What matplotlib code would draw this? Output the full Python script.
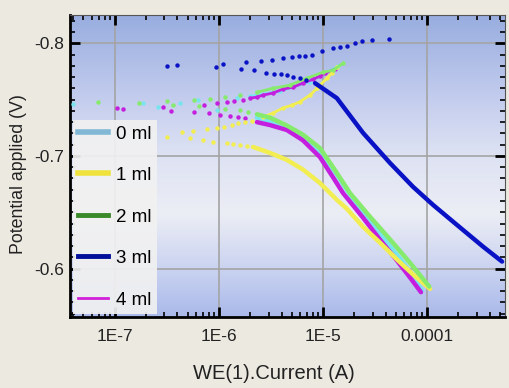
import numpy as np
import matplotlib
matplotlib.use('Agg')
import matplotlib.pyplot as plt
from matplotlib.colors import LinearSegmentedColormap
from matplotlib.lines import Line2D
from matplotlib.ticker import MultipleLocator, LogLocator, FixedLocator, FixedFormatter

plt.rcParams['font.family'] = ['Liberation Sans', 'DejaVu Sans']

labels = ['0 ml', '1 ml', '2 ml', '3 ml', '4 ml']

# dense lower branch: current (A), potential (V)
line_I = {
    '0 ml': [8.95e-5, 6.1e-5, 4.4e-5, 2.83e-5, 1.82e-5, 1.30e-5, 9.8e-6, 6.4e-6, 4.5e-6, 3.1e-6, 2.32e-6],
    '1 ml': [1.07e-4, 7.3e-5, 5.15e-5, 3.53e-5, 2.43e-5, 1.70e-5, 1.36e-5, 9.35e-6, 6.4e-6, 4.5e-6, 3.1e-6, 2.12e-6],
    '2 ml': [1.05e-4, 6.87e-5, 4.4e-5, 2.83e-5, 1.82e-5, 1.25e-5, 9.35e-6, 6.4e-6, 4.5e-6, 3.1e-6, 2.32e-6],
    '3 ml': [5.26e-4, 3.45e-4, 1.78e-4, 1.14e-4, 7.33e-5, 4.4e-5, 2.43e-5, 1.36e-5, 8.4e-6],
    '4 ml': [8.75e-5, 6.87e-5, 5.15e-5, 3.53e-5, 2.43e-5, 1.56e-5, 1.25e-5, 9.35e-6, 6.4e-6, 4.5e-6, 3.1e-6, 2.32e-6],
}
line_V = {
    '0 ml': [-0.5805, -0.6035, -0.620, -0.6425, -0.6655, -0.686, -0.701, -0.716, -0.725, -0.731, -0.734],
    '1 ml': [-0.582, -0.595, -0.608, -0.623, -0.637, -0.653, -0.661, -0.676, -0.688, -0.6965, -0.7027, -0.708],
    '2 ml': [-0.584, -0.605, -0.626, -0.646, -0.667, -0.690, -0.707, -0.719, -0.727, -0.734, -0.737],
    '3 ml': [-0.6062, -0.6195, -0.6416, -0.6566, -0.6726, -0.6938, -0.7204, -0.7513, -0.7646],
    '4 ml': [-0.579, -0.592, -0.607, -0.6257, -0.6451, -0.667, -0.681, -0.699, -0.714, -0.723, -0.7274, -0.730],
}

# upper branch, closely spaced points near its end
up_I = {
    '0 ml': [2.0e-6, 3.86e-6, 7.5e-6, 1.39e-5],
    '1 ml': [2.65e-6, 3.3e-6, 4.12e-6, 5.0e-6, 6.0e-6, 7.5e-6, 8.75e-6, 1.09e-5, 1.22e-5, 1.36e-5],
    '2 ml': [2.32e-6, 3.3e-6, 4.8e-6, 7.0e-6, 1.0e-5, 1.25e-5, 1.56e-5],
    '4 ml': [2.0e-6, 2.32e-6, 2.65e-6, 3.3e-6, 4.12e-6, 5.15e-6, 6.4e-6, 8.0e-6, 9.35e-6, 1.05e-5, 1.30e-5],
}
up_V = {
    '0 ml': [-0.753, -0.7575, -0.766, -0.7796],
    '1 ml': [-0.7345, -0.738, -0.7425, -0.745, -0.748, -0.754, -0.760, -0.769, -0.7735, -0.779],
    '2 ml': [-0.7566, -0.760, -0.7628, -0.769, -0.7743, -0.776, -0.7823],
    '4 ml': [-0.7513, -0.7522, -0.754, -0.7558, -0.7593, -0.761, -0.7646, -0.768, -0.7708, -0.7735, -0.777],
}

# separate points (corrosion region and the 3 ml upper row)
dot_I = {
    '0 ml': [4.0e-8, 1.86e-7, 2.6e-7, 4.2e-7, 6.3e-7, 9.6e-7, 1.5e-6],
    '1 ml': [3.2e-7, 5.3e-7, 7.0e-7, 8.75e-7, 1.19e-6, 1.36e-6, 1.6e-6, 1.86e-6,
             4.4e-7, 5.6e-7, 7.7e-7, 9.6e-7, 1.12e-6, 1.33e-6, 1.52e-6, 1.78e-6, 2.07e-6],
    '2 ml': [6.9e-8, 1.7e-7, 3.2e-7, 3.6e-7, 5.75e-7, 6.4e-7, 8.2e-7, 1.14e-6, 1.15e-6, 1.58e-6, 1.58e-6, 1.9e-6],
    '3 ml': [3.2e-7, 4.0e-7, 9.4e-7, 1.63e-6, 2.17e-6, 2.83e-6, 3.4e-6, 3.95e-6, 4.5e-6, 5.15e-6, 6.0e-6, 6.9e-6,
             1.10e-6, 1.82e-6, 2.54e-6, 3.24e-6, 4.12e-6, 5.0e-6, 5.9e-6, 6.7e-6, 7.8e-6, 9.8e-6,
             1.25e-5, 1.46e-5, 1.70e-5, 2.03e-5, 2.37e-5, 2.96e-5, 4.3e-5],
    '4 ml': [1.05e-7, 1.19e-7, 2.9e-7, 3.47e-7, 5.75e-7, 7.2e-7, 8.0e-7, 9.6e-7, 1.02e-6, 1.19e-6,
             1.28e-6, 1.39e-6, 1.52e-6, 1.70e-6, 1.78e-6],
}
dot_V = {
    '0 ml': [-0.746, -0.747, -0.7434, -0.747, -0.7496, -0.7407, -0.751],
    '1 ml': [-0.7168, -0.7159, -0.7142, -0.7124, -0.7115, -0.7106, -0.7097, -0.7088,
             -0.7212, -0.7221, -0.7239, -0.7248, -0.7257, -0.7274, -0.7292, -0.730, -0.731],
    '2 ml': [-0.748, -0.747, -0.7487, -0.745, -0.7496, -0.744, -0.7504, -0.742, -0.752, -0.7407, -0.754, -0.739],
    '3 ml': [-0.780, -0.781, -0.779, -0.777, -0.776, -0.774, -0.773, -0.7726, -0.7717, -0.770, -0.769, -0.767,
             -0.782, -0.783, -0.784, -0.785, -0.787, -0.788, -0.7885, -0.789, -0.790, -0.793,
             -0.7956, -0.797, -0.798, -0.800, -0.802, -0.803, -0.8035],
    '4 ml': [-0.7425, -0.7416, -0.7434, -0.740, -0.739, -0.745, -0.738, -0.747, -0.7363, -0.748,
             -0.7354, -0.7487, -0.7345, -0.7496, -0.7336],
}

plot_colors = {'0 ml': '#78e4ee', '1 ml': '#f2ee52', '2 ml': '#86ea6c',
               '3 ml': '#0a12c6', '4 ml': '#c41ede'}
legend_colors = {'0 ml': '#80b8d6', '1 ml': '#f0e23c', '2 ml': '#3a8a2a',
                 '3 ml': '#00109a', '4 ml': '#d020d8'}
legend_lw = {'0 ml': 4, '1 ml': 4, '2 ml': 3.5, '3 ml': 3.5, '4 ml': 2}

fig = plt.figure(figsize=(5.1, 3.88), dpi=100)
fig.patch.set_facecolor('#ece9e1')
ax = fig.add_axes([0.137, 0.183, 0.853, 0.778])

# background gradient of the plot area
bg = LinearSegmentedColormap.from_list('bg', [
    (0.0, '#aab9ea'), (0.16, '#cad3f0'), (0.34, '#eceef5'), (0.54, '#dde2f3'),
    (0.72, '#c4cdee'), (1.0, '#98addf')])
grad = np.linspace(0, 1, 256).reshape(-1, 1)
ax.imshow(grad, cmap=bg, aspect='auto', extent=[0, 1, 0, 1], origin='lower',
          transform=ax.transAxes, zorder=0)

ax.set_xscale('log')
ax.set_xlim(3.7e-8, 5.6e-4)
ax.set_ylim(-0.557, -0.825)

ax.grid(True, which='major', color='#a4a4a4', lw=1.2, zorder=1)

for lab in ['0 ml', '4 ml', '1 ml', '2 ml', '3 ml']:
    c = plot_colors[lab]
    ax.plot(line_I[lab], line_V[lab], '-', color=c, lw=3.2, solid_capstyle='round',
            solid_joinstyle='round', zorder=3)
    if lab in up_I:
        ax.plot(up_I[lab], up_V[lab], '-', color=c, lw=2.0, zorder=3)
        ax.plot(up_I[lab], up_V[lab], 'o', color=c, ms=3.2, mec='none', zorder=3)
    ax.plot(dot_I[lab], dot_V[lab], 'o', color=c, ms=3.2, mec='none', zorder=3)

# ticks
ax.xaxis.set_major_locator(FixedLocator([1e-7, 1e-6, 1e-5, 1e-4]))
ax.xaxis.set_major_formatter(FixedFormatter(['1E-7', '1E-6', '1E-5', '0.0001']))
ax.xaxis.set_minor_locator(LogLocator(base=10, subs=np.arange(2, 10)))
ax.xaxis.set_minor_formatter(FixedFormatter([]))
ax.yaxis.set_major_locator(FixedLocator([-0.8, -0.7, -0.6]))
ax.yaxis.set_major_formatter(FixedFormatter(['-0.8', '-0.7', '-0.6']))
ax.yaxis.set_minor_locator(MultipleLocator(0.01))
ax.tick_params(which='both', direction='in', top=True, right=True, color='black')
ax.tick_params(which='major', length=7, width=2, labelsize=12.5, labelcolor='#222222')
ax.tick_params(axis='x', which='major', pad=9)
ax.tick_params(axis='y', which='major', pad=4)
ax.tick_params(which='minor', length=3.5, width=1.2)

for s in ['left', 'bottom']:
    ax.spines[s].set_linewidth(2)
for s in ['top', 'right']:
    ax.spines[s].set_linewidth(0.8)
    ax.spines[s].set_color('#555555')

ax.set_xlabel('WE(1).Current (A)', fontsize=14.5, color='#222222')
ax.xaxis.set_label_coords(0.469, -0.155)
ax.set_ylabel('Potential applied (V)', fontsize=12.8, color='#222222')
ax.yaxis.set_label_coords(-0.098, 0.475)

handles = [Line2D([], [], color=legend_colors[l], lw=legend_lw[l]) for l in labels]
leg = ax.legend(handles, labels, loc='lower left', bbox_to_anchor=(0.0, 0.0),
                fontsize=13.5, frameon=True, fancybox=False, framealpha=0.92,
                facecolor='#f1f1f1', edgecolor='none', labelspacing=1.3,
                handlelength=1.6, handletextpad=0.4, borderpad=0.3,
                borderaxespad=0.15)
leg.set_zorder(5)

fig.savefig('out.png', dpi=100, facecolor=fig.get_facecolor())
